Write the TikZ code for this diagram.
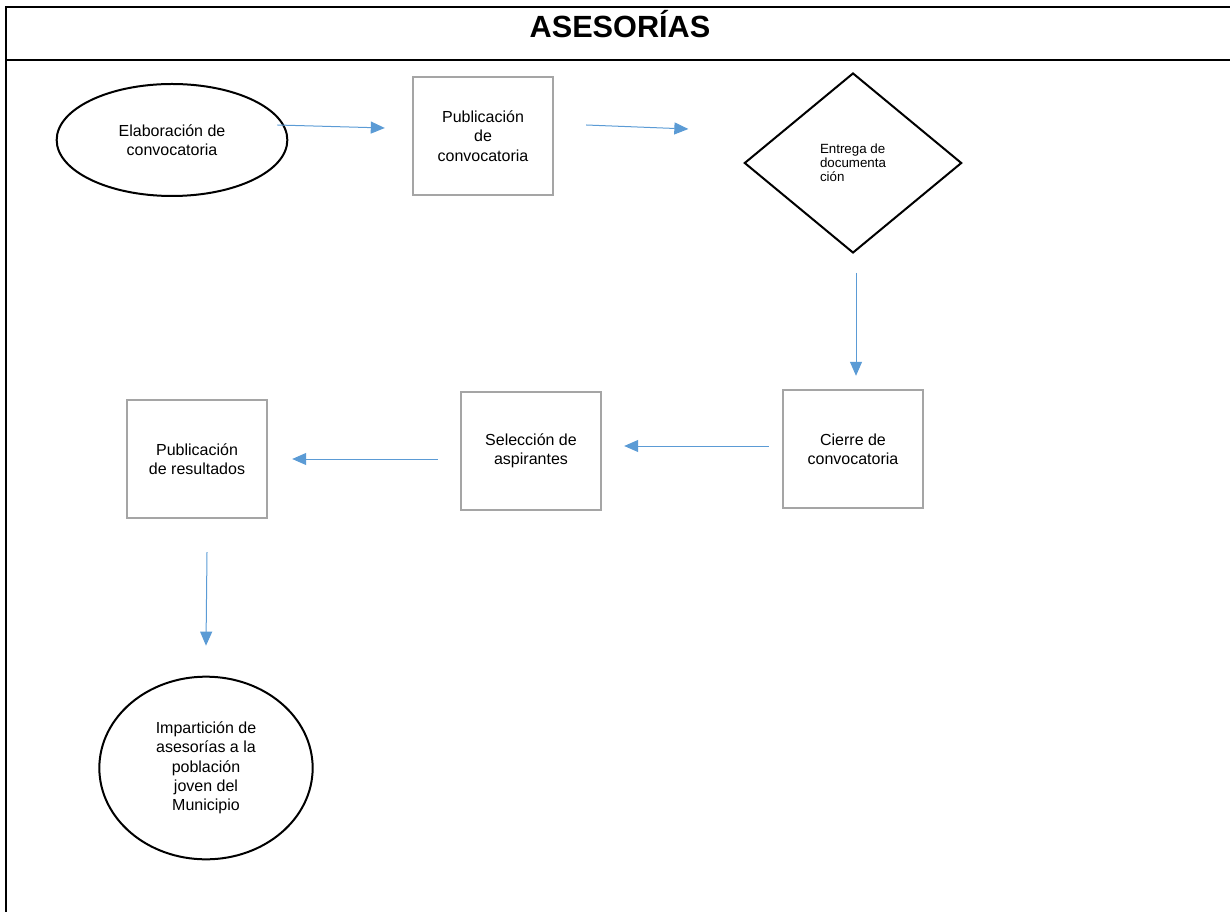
\documentclass[tikz,border=0pt]{standalone}
\usepackage{fontspec}
\setmainfont{Liberation Sans}
\usetikzlibrary{shapes.geometric, positioning, arrows.meta}
\definecolor{flowblue}{HTML}{5B9BD5}
\definecolor{boxgray}{HTML}{A5A5A5}

\begin{document}
\begin{tikzpicture}[x=0.75pt, y=-0.75pt, thick]
    % Define block styles
    \tikzstyle{block} = [rectangle, draw=boxgray, line width=1.8pt, minimum width=105pt, minimum height=88.5pt, align=center, font=\fontsize{12}{14.5}\selectfont]
    \tikzstyle{startend} = [ellipse, draw, line width=1.5pt, inner sep=0pt, align=center, font=\fontsize{12}{14.5}\selectfont]
    \tikzstyle{decision} = [diamond, draw, line width=1.5pt, inner sep=0pt, minimum width=163pt, minimum height=135pt, align=left, font=\fontsize{10}{10.5}\selectfont]
    \tikzstyle{line} = [-{Triangle[length=10.5pt, width=9pt]}, flowblue, line width=0.75pt]
    % Frame and title
    \useasboundingbox (0,0) rectangle (1230,912);
    \draw[line width=1.5pt] (6,930) -- (6,7) -- (1250,7);
    \draw[line width=1.5pt] (6,60) -- (1250,60);
    \node[anchor=base, font=\bfseries\fontsize{23}{27}\selectfont] (title) at (620,38) {ASESORÍAS};
    % Blocks and nodes
    \node [startend, minimum width=173pt, minimum height=84pt] (elab) at (172,140) {Elaboración de\\convocatoria};
    \node [block] (pubconv) at (483,136) {Publicación\\de\\convocatoria};
    \node [decision] (entrega) at (853,163) {Entrega de\\documenta\\ción};
    \node [block] (cierre) at (853,449) {Cierre de\\convocatoria};
    \node [block] (selec) at (531,451) {Selección de\\aspirantes};
    \node [block] (pubres) at (197,459) {Publicación\\de resultados};
    \node [startend, minimum width=160pt, minimum height=137pt] (impart) at (206,768) {Impartición de\\asesorías a la\\población\\joven del\\Municipio};

    % Connections
    \draw[line] ([shift={(-11,-15)}]elab.east) -- ([shift={(-27,-8)}]pubconv.west);
    \draw[line] ([shift={(32,-11)}]pubconv.east) -- ([shift={(-55,-34)}]entrega.west);
    \draw[line] ([shift={(3,19)}]entrega.south) -- ([shift={(3,-13)}]cierre.north);
    \draw[line] ([shift={(-13,-3)}]cierre.west) -- ([shift={(22,-5)}]selec.east);
    \draw[line] ([shift={(-22,8)}]selec.west) -- ([shift={(24,0)}]pubres.east);
    \draw[line] ([shift={(10,33)}]pubres.south) -- ([shift={(0,-30)}]impart.north);

\end{tikzpicture}
\end{document}
